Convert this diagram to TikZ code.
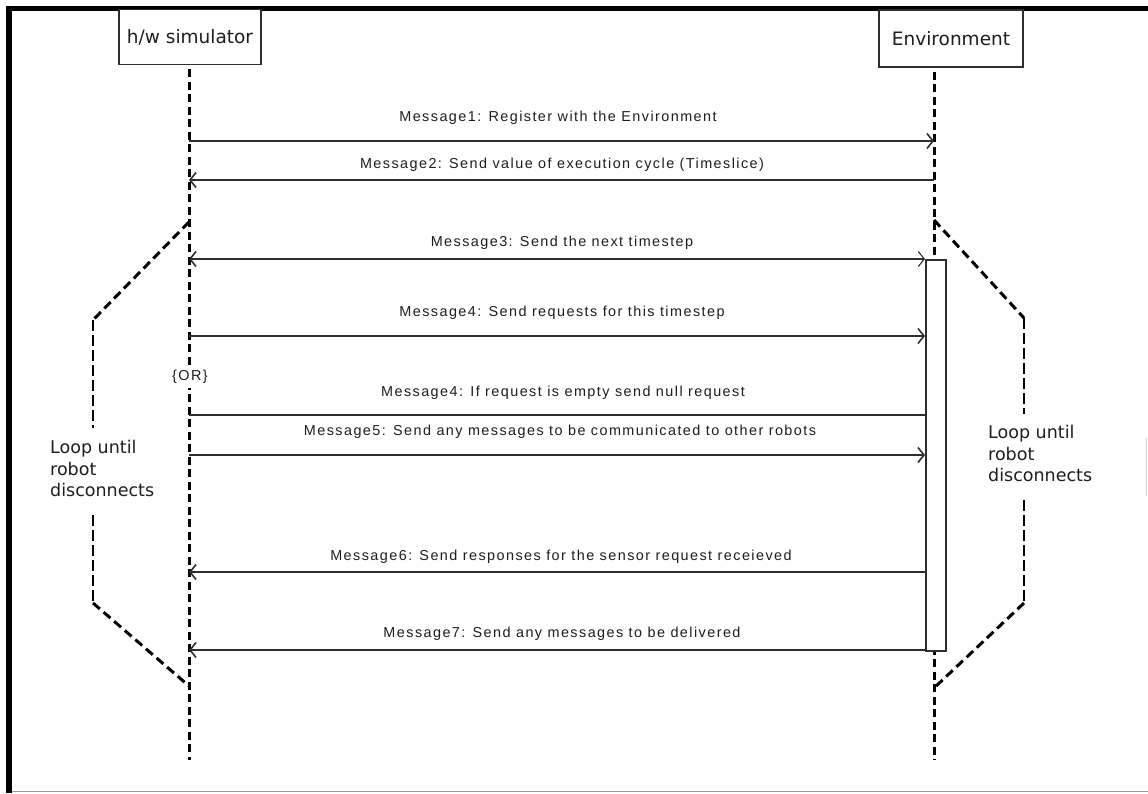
\documentclass[tikz,border=0pt]{standalone}
\usepackage{fontspec}
\setmainfont{Liberation Sans}
\newfontfamily\boxfont{DejaVu Sans}
\newfontfamily\msgfont[LetterSpace=10]{Liberation Sans}
\usetikzlibrary{arrows.meta}

\definecolor{ink}{HTML}{1E1E1E}
\definecolor{wire}{HTML}{2E2E2E}

\tikzset{
  actor/.style={draw=wire, line width=1.3pt, fill=white, minimum width=142pt,
    minimum height=55pt, inner sep=0pt, font=\boxfont\fontsize{18.5}{22}\selectfont, text=ink},
  lifeline/.style={line width=3pt, dash pattern=on 8pt off 4.5pt, black},
  loopslant/.style={line width=3pt, dash pattern=on 9pt off 5pt, black},
  loopside/.style={line width=1.6pt, dash pattern=on 11pt off 4pt, black},
  msg/.style={line width=1.6pt, wire},
  tip/.style={-{Straight Barb[length=6pt,width=15pt,line width=1.6pt]}},
  bitip/.style={{Straight Barb[length=6pt,width=15pt,line width=1.6pt]}-{Straight Barb[length=6pt,width=15pt,line width=1.1pt]}},
  msglabel/.style={font=\msgfont\fontsize{14.4}{16}\selectfont, text=ink, inner sep=0pt},
  looplabel/.style={font=\boxfont\fontsize{17.5}{21.5}\selectfont, text=ink, align=left,
    inner sep=0pt, anchor=north west},
  activation/.style={draw=wire, line width=1.6pt, fill=white}
}

\begin{document}
\begin{tikzpicture}[x=1pt, y=-1pt]
  \useasboundingbox (0,0) rectangle (1148,793);
  \fill[white] (0,0) rectangle (1148,793);

  % frame edges
  \draw[line width=6pt, black] (9,6) -- (9,793);
  \draw[line width=5pt, black] (6,8.5) -- (1148,8.5);
  \draw[line width=1.5pt, gray!80] (12,791.5) -- (1148,791.5);
  \draw[line width=0.8pt, gray!35] (1146,438) -- (1146,496);

  % participants
  \node[actor] (sim) at (190,37) {h/w simulator};
  \node[actor, minimum width=144pt, minimum height=57pt] (env) at (951,38.5) {Environment};

  % lifelines
  \coordinate (simEnd) at (189,760);
  \coordinate (envEnd) at (934,760);
  \draw[lifeline] (sim.south -| simEnd) ++(0,4) -- (simEnd);
  \draw[lifeline] (env.south -| envEnd) ++(0,4) -- (envEnd);

  % activation bar on the environment
  \node[activation, minimum width=20pt, minimum height=391pt, inner sep=0pt,
        anchor=north west] (act) at (925,259) {};

  % message end points
  \coordinate (s1) at (189,141);  \coordinate (e1) at (934,141);
  \coordinate (s2) at (189,180);  \coordinate (e2) at (934,180);
  \coordinate (s3) at (189,259);  \coordinate (e3) at (925,259);
  \coordinate (s4) at (189,336);  \coordinate (e4) at (925,336);
  \coordinate (s4b) at (189,415); \coordinate (e4b) at (925,415);
  \coordinate (s5) at (189,455);  \coordinate (e5) at (925,455);
  \coordinate (s6) at (189,572);  \coordinate (e6) at (925,572);
  \coordinate (s7) at (189,650);  \coordinate (e7) at (925,650);

  % messages
  \draw[msg, tip] (s1) -- (e1);
  \draw[msg, tip] (e2) -- (s2);
  \draw[msg, bitip] (s3) -- (e3);
  \draw[msg, tip] (s4) -- (e4);
  \draw[msg] (s4b) -- (e4b);
  \draw[msg, tip] (s5) -- (e5);
  \draw[msg, tip] (e6) -- (s6);
  \draw[msg, tip] (e7) -- (s7);

  % message labels
  \node[msglabel] (l1) at (558,118) {Message1: Register with the Environment};
  \node[msglabel] (l2) at (562,165) {Message2: Send value of execution cycle (Timeslice)};
  \node[msglabel] (l3) at (562,243) {Message3: Send the next timestep};
  \node[msglabel] (l4) at (562,313) {Message4: Send requests for this timestep};
  \node[msglabel, fill=white, inner xsep=1pt, inner ysep=4pt] (or) at (190,377) {\{OR\}};
  \node[msglabel] (l4b) at (563,393) {Message4: If request is empty send null request};
  \node[msglabel] (l5) at (560,432) {Message5: Send any messages to be communicated to other robots};
  \node[msglabel] (l6) at (561,557) {Message6: Send responses for the sensor request receieved};
  \node[msglabel] (l7) at (562,634) {Message7: Send any messages to be delivered};

  % loop markers, left side
  \coordinate (lt) at (189,222);
  \coordinate (lbend) at (93,320);
  \coordinate (lgap1) at (93,428);
  \coordinate (lgap2) at (93,515);
  \coordinate (lbend2) at (93,603);
  \coordinate (lb) at (189,686);
  \draw[loopslant] (lt) -- (lbend);
  \draw[loopside] (lbend) -- (lgap1);
  \node[looplabel] (loopL) at (50,440) {Loop until\\robot\\disconnects};
  \draw[loopside] (lgap2) -- (lbend2);
  \draw[loopslant] (lbend2) -- (lb);

  % loop markers, right side
  \coordinate (rt) at (934,220);
  \coordinate (rbend) at (1024,318);
  \coordinate (rgap1) at (1024,414);
  \coordinate (rgap2) at (1024,500);
  \coordinate (rbend2) at (1024,603);
  \coordinate (rb) at (934,688);
  \draw[loopslant] (rt) -- (rbend);
  \draw[loopside] (rbend) -- (rgap1);
  \node[looplabel] (loopR) at (988,425) {Loop until\\robot\\disconnects};
  \draw[loopside] (rgap2) -- (rbend2);
  \draw[loopslant] (rbend2) -- (rb);
\end{tikzpicture}
\end{document}
